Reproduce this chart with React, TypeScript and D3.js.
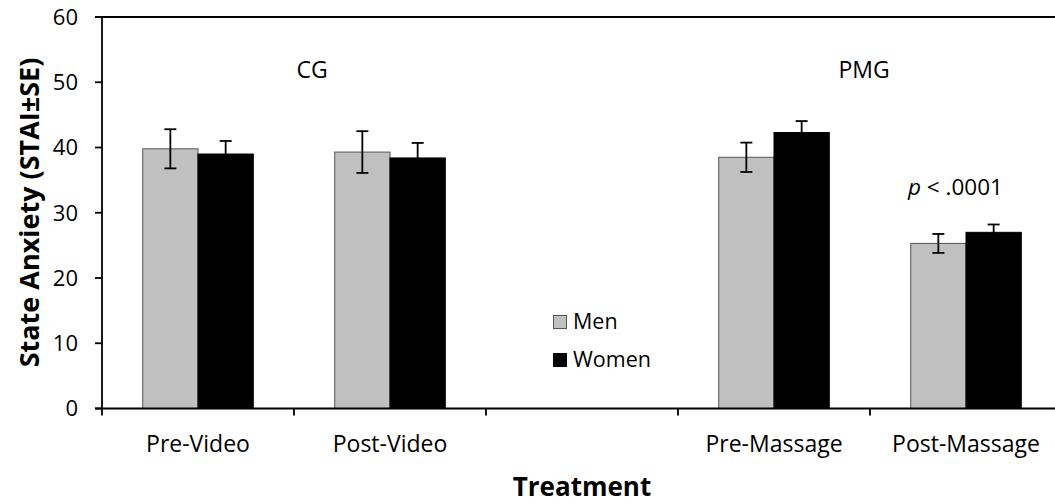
import React from 'react';
import * as d3 from 'd3';

// categories along the x axis (the empty one is the gap between groups)
const categories = ['Pre-Video', 'Post-Video', '', 'Pre-Massage', 'Post-Massage'];
const seriesNames = ['Men', 'Women'];
const menValues = [39.8, 39.3, null, 38.5, 25.3];
const menSE = [3.0, 3.2, null, 2.25, 1.45];
const womenValues = [39.0, 38.4, null, 42.3, 27.0];
const womenSE = [2.0, 2.3, null, 1.75, 1.2];
const yTicks = [0, 10, 20, 30, 40, 50, 60];
const groupLabels = [
  { text: 'CG', after: 'Post-Video', dx: 18 },
  { text: 'PMG', after: 'Post-Massage', dx: -6 },
];

const colors = ['#c0c0c0', '#000000'];
const font = '"Open Sans", Lato, sans-serif';

export default function App() {
  // set the dimensions and margins of the graph
  const width = 1055,
    height = 503;
  const margin = { top: 17, left: 102, bottom: 94.5 };
  const plotRight = 1062;

  const xScale = d3.scaleBand().domain(categories.map((c, i) => c || 'gap' + i)).range([margin.left, plotRight]);
  const yScale = d3.scaleLinear().domain([0, 60]).range([height - margin.bottom, margin.top]);

  const bw = 55.3;
  const series = [
    { values: menValues, se: menSE },
    { values: womenValues, se: womenSE },
  ];
  const keys = xScale.domain();
  const y0 = yScale(0);

  const bars: any[] = [];
  const errs: any[] = [];
  series.forEach((s, si) => {
    s.values.forEach((v, i) => {
      if (v == null) return;
      const center = (xScale(keys[i]) as number) + xScale.bandwidth() / 2;
      const x = center - bw + si * bw;
      bars.push(
        <rect
          key={'b' + si + i}
          x={x}
          y={yScale(v)}
          width={bw}
          height={y0 - yScale(v)}
          fill={colors[si]}
          stroke={si === 0 ? '#555' : '#000'}
          strokeWidth={1}
        />
      );
      const cx = x + bw / 2;
      const e = s.se[i] as number;
      errs.push(
        <g key={'e' + si + i} stroke="#000" strokeWidth={1.8}>
          <line x1={cx} x2={cx} y1={yScale(v + e)} y2={yScale(v - e)} />
          <line x1={cx - 6} x2={cx + 6} y1={yScale(v + e)} y2={yScale(v + e)} />
          <line x1={cx - 6} x2={cx + 6} y1={yScale(v - e)} y2={yScale(v - e)} />
        </g>
      );
    });
  });

  const tickPositions = keys.map((k) => xScale(k) as number);

  return (
    <div>
      <svg width={width} height={height} style={{ position: 'absolute', left: 0, top: 0 }} fontFamily={font}>
        <rect width={width} height={height} fill="#fff" />
        {bars}
        {errs}
        {/* axes */}
        <g stroke="#000" strokeWidth={1.8}>
          <line x1={margin.left} x2={margin.left} y1={margin.top} y2={y0} />
          <line x1={95} x2={width} y1={y0} y2={y0} />
          <line x1={95} x2={width} y1={margin.top} y2={margin.top} />
          {yTicks.map((t) => (
            <line key={t} x1={95} x2={margin.left} y1={yScale(t)} y2={yScale(t)} />
          ))}
          {tickPositions.map((p, i) => (
            <line key={i} x1={p} x2={p} y1={y0} y2={y0 + 7} />
          ))}
        </g>
        {yTicks.map((t) => (
          <text key={t} x={78} y={yScale(t)} dy="0.36em" textAnchor="end" fontSize={22} fill="#000">
            {t}
          </text>
        ))}
        {categories.map((c, i) =>
          c ? (
            <text
              key={c}
              x={(xScale(keys[i]) as number) + xScale.bandwidth() / 2}
              y={452}
              textAnchor="middle"
              fontSize={23}
              fill="#000"
            >
              {c}
            </text>
          ) : null
        )}
        {groupLabels.map((g) => (
          <text
            key={g.text}
            x={(xScale(g.after) as number) + g.dx}
            y={78}
            textAnchor="middle"
            fontSize={23}
            fill="#000"
          >
            {g.text}
          </text>
        ))}
        <text x={908} y={195} fontSize={22.5} fill="#000">
          <tspan fontStyle="italic">p</tspan> &lt; .0001
        </text>
        {/* legend */}
        {seriesNames.map((n, i) => (
          <g key={n} transform={`translate(553,${315 + i * 38})`}>
            <rect x={0.5} y={0.5} width={13} height={13} fill={colors[i]} stroke={i === 0 ? '#555' : '#000'} />
            <text x={20} y={14} fontSize={21.5} fill="#000">
              {n}
            </text>
          </g>
        ))}
        <text x={582} y={496} textAnchor="middle" fontSize={26} fontWeight="bold" fill="#000">
          Treatment
        </text>
        <text
          transform={`translate(39,212.5) rotate(-90)`}
          textAnchor="middle"
          fontSize={27}
          fontWeight="bold"
          fill="#000"
        >
          State Anxiety (STAI±SE)
        </text>
      </svg>
    </div>
  );
}
